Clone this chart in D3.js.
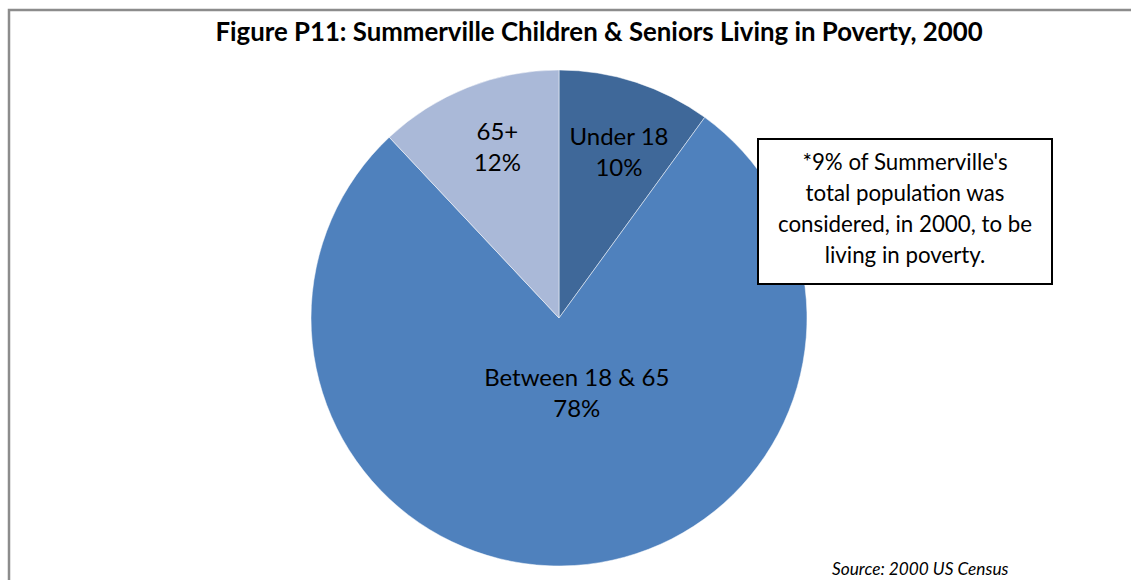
<!DOCTYPE html>
<html>
<head>
<meta charset="utf-8">
<script src="https://cdn.jsdelivr.net/npm/d3@7/dist/d3.min.js"></script>
<style>
  body { margin: 0; background: #fff; }
  svg { display: block; }
</style>
</head>
<body>
<div id="chart"></div>
<script>
const width = 1131
const height = 580

/* Data */
const groups = ['Under 18', 'Between 18 & 65', '65+']
const shares = [10, 78, 12]
const colors = ['#3F6899', '#4F81BD', '#AAB9D8']
const title = 'Figure P11: Summerville Children & Seniors Living in Poverty, 2000'
const note = ["*9% of Summerville's", 'total population was', 'considered, in 2000, to be', 'living in poverty.']
const source = 'Source: 2000 US Census'

const font = 'Lato, "Open Sans", sans-serif'

const svg = d3.select('#chart').append('svg').attr('width', width).attr('height', height)

/* chart frame */
svg.append('rect')
    .attr('x', 9).attr('y', 10)
    .attr('width', width + 10).attr('height', height + 10)
    .attr('fill', '#fff')
    .attr('stroke', '#8c8c8c')
    .attr('stroke-width', 2.5)

svg.append('text')
    .attr('x', 599).attr('y', 41)
    .attr('text-anchor', 'middle')
    .attr('font-family', font)
    .attr('font-weight', 'bold')
    .attr('font-size', 25.8)
    .attr('fill', '#000')
    .text(title)

/* pie */
const cx = 559, cy = 318, r = 248
const pie = d3.pie().sort(null).value(d => d.value)
const arcs = pie(groups.map((g, i) => ({ name: g, value: shares[i], color: colors[i] })))
const arc = d3.arc().innerRadius(0).outerRadius(r)

const chart = svg.append('g').attr('transform', `translate(${[cx, cy]})`)

chart.selectAll('path.slice')
    .data(arcs)
    .join('path')
    .attr('class', 'slice')
    .attr('d', arc)
    .attr('fill', d => d.data.color)
    .attr('stroke', '#fff')
    .attr('stroke-width', 0.5)

/* "best fit" label placement: small slices near the rim at ~20deg off vertical,
   the big slice a bit below the centre */
function labelPos(d) {
    const a = (d.startAngle + d.endAngle) / 2
    if (d.endAngle - d.startAngle > Math.PI) {
        const b = a - 0.17
        return [Math.sin(b) * 0.31 * r, -Math.cos(b) * 0.31 * r]
    }
    const b = Math.sign(Math.sin(a)) * 0.346
    const lr = (Math.sin(a) > 0 ? 0.713 : 0.733) * r
    return [Math.sin(b) * lr, -Math.cos(b) * lr]
}

const labels = chart.selectAll('g.label')
    .data(arcs)
    .join('g')
    .attr('class', 'label')
    .attr('transform', d => `translate(${labelPos(d)})`)

labels.append('text')
    .attr('text-anchor', 'middle')
    .attr('font-family', font)
    .attr('font-size', 24)
    .attr('fill', '#000')
    .selectAll('tspan')
    .data(d => [d.data.name, d.data.value + '%'])
    .join('tspan')
    .attr('x', 0)
    .attr('y', (d, i) => i === 0 ? -7 : 24)
    .text(d => d)

/* note box */
const box = svg.append('g').attr('transform', 'translate(758,139)')
box.append('rect')
    .attr('width', 294).attr('height', 145)
    .attr('fill', '#fff')
    .attr('stroke', '#000')
    .attr('stroke-width', 2)
box.append('text')
    .attr('text-anchor', 'middle')
    .attr('font-family', font)
    .attr('font-size', 22.3)
    .attr('fill', '#000')
    .selectAll('tspan')
    .data(note)
    .join('tspan')
    .attr('x', 147)
    .attr('y', (d, i) => 31 + i * 31)
    .text(d => d)

svg.append('text')
    .attr('x', 832).attr('y', 575)
    .attr('font-family', font)
    .attr('font-style', 'italic')
    .attr('font-size', 17.3)
    .attr('fill', '#000')
    .text(source)
</script>
</body>
</html>
